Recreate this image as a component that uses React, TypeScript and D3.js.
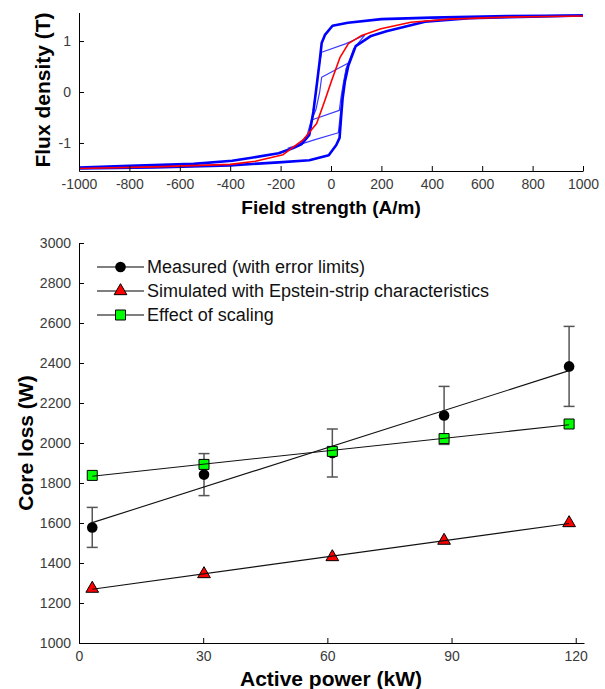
import * as d3 from "d3";
import { useEffect, useRef } from "react";

const width = 605;
const height = 689;

// hysteresis loops, [field strength A/m, flux density T]
const majorDescending: [number, number][] = [
  [1000, 1.5], [700, 1.49], [400, 1.46], [200, 1.43], [67, 1.36], [6, 1.3],
  [-24, 1.12], [-37, 0.96], [-45, 0.6], [-55, 0.2], [-70, -0.39], [-86, -0.84],
  [-116, -1.02], [-150, -1.1], [-208, -1.2], [-315, -1.29], [-392, -1.35],
  [-545, -1.41], [-800, -1.45], [-1000, -1.48],
];
const majorAscending: [number, number][] = [
  [-1000, -1.5], [-700, -1.48], [-400, -1.44], [-208, -1.38], [-86, -1.34],
  [-9, -1.24], [21, -1.04], [34, -0.9], [40, -0.5], [46, -0.13], [55, 0.2],
  [69, 0.52], [98, 0.9], [159, 1.1], [220, 1.19], [373, 1.38], [550, 1.45],
  [800, 1.48], [1000, 1.5],
];
const minorLoopA: [number, number][] = [
  [135, 1.12], [60, 0.95], [-37, 0.78], [-48, 0.5], [-60, 0.0], [-75, -0.5],
  [-95, -0.85], [-130, -1.05], [-170, -1.1], [-60, -0.93], [29, -0.8],
  [36, -0.5], [45, 0.0], [60, 0.45], [90, 0.85], [135, 1.12],
];
const minorLoopB: [number, number][] = [
  [69, 0.57], [-37, 0.29], [-45, 0.0], [-60, -0.35], [-77, -0.55],
  [33, -0.36], [40, -0.1], [50, 0.2], [60, 0.45], [69, 0.57],
];
const anhysteretic: [number, number][] = [
  [-1000, -1.5], [-700, -1.47], [-400, -1.42], [-300, -1.36], [-190, -1.23],
  [-111, -0.94], [-57, -0.62], [-24, -0.16], [3, 0.23], [36, 0.68], [69, 0.95],
  [122, 1.11], [198, 1.24], [317, 1.37], [472, 1.43], [700, 1.47], [1000, 1.49],
];
const fieldTicks = [-1000, -800, -600, -400, -200, 0, 200, 400, 600, 800, 1000];
const fluxTicks = [-1, 0, 1];

// core loss vs active power
const powerKW = [3.2, 30.2, 61.2, 88.2, 118.4];
const measuredLoss = [1578, 1842, 1950, 2138, 2383];
const measuredError = [100, 105, 120, 145, 200];
const simulatedLoss = [1272, 1345, 1430, 1512, 1600];
const scalingLoss = [1838, 1893, 1958, 2022, 2095];
const powerTicks = [0, 30, 60, 90, 120];
const lossTicks = [1000, 1200, 1400, 1600, 1800, 2000, 2200, 2400, 2600, 2800, 3000];
const legendLabels = [
  "Measured (with error limits)",
  "Simulated with Epstein-strip characteristics",
  "Effect of scaling",
];

const font = "'Liberation Sans', Arial, sans-serif";

function fitLine(xs: number[], ys: number[]): [number, number][] {
  const mx = d3.mean(xs) as number;
  const my = d3.mean(ys) as number;
  const slope =
    d3.sum(xs.map((x, i) => (x - mx) * (ys[i] - my))) /
    d3.sum(xs.map((x) => (x - mx) ** 2));
  const x0 = xs[0];
  const x1 = xs[xs.length - 1];
  return [
    [x0, my + slope * (x0 - mx)],
    [x1, my + slope * (x1 - mx)],
  ];
}

function styleAxis(g: any) {
  g.select(".domain").attr("stroke", "#000").attr("stroke-width", 1);
  g.selectAll(".tick line").attr("stroke", "#000");
  g.selectAll(".tick text")
    .attr("fill", "#3a3a3a")
    .style("font-family", font)
    .style("font-size", "14px");
}

function drawMarker(g: any, kind: string, x: number, y: number) {
  if (kind === "circle") {
    g.append("circle").attr("cx", x).attr("cy", y).attr("r", 5.3).attr("fill", "#000");
  } else if (kind === "triangle") {
    g.append("path")
      .attr("d", d3.symbol(d3.symbolTriangle, 70)())
      .attr("transform", `translate(${x},${y})`)
      .attr("fill", "#ff0000")
      .attr("stroke", "#000")
      .attr("stroke-width", 1);
  } else {
    g.append("path")
      .attr("d", d3.symbol(d3.symbolSquare, 100)())
      .attr("transform", `translate(${x},${y})`)
      .attr("fill", "#00ff00")
      .attr("stroke", "#000")
      .attr("stroke-width", 1);
  }
}

function axisTitle(svg: any, x: number, y: number, size: number, label: string, rotate = false) {
  svg
    .append("text")
    .attr("transform", `translate(${x}, ${y})${rotate ? " rotate(-90)" : ""}`)
    .attr("text-anchor", "middle")
    .attr("dominant-baseline", "central")
    .style("font-family", font)
    .style("font-size", `${size}px`)
    .style("font-weight", "700")
    .text(label);
}

function drawChart(svgEl: SVGSVGElement) {
  const svg = d3.select(svgEl);
  svg.selectAll("*").remove();
  const plain = (d: any) => String(d);

  // ---- top: hysteresis ----
  const hx = d3.scaleLinear().domain([-1000, 1000]).range([79, 583]);
  const hy = d3.scaleLinear().domain([-1.55, 1.56]).range([171, 12.5]);

  const loopLine = d3
    .line<[number, number]>()
    .x((d) => hx(d[0]))
    .y((d) => hy(d[1]));

  const loops = svg.append("g").attr("fill", "none").attr("stroke-linejoin", "round");
  [minorLoopA, minorLoopB].forEach((loop) => {
    loops.append("path").attr("d", loopLine(loop)).attr("stroke", "#3a3aff").attr("stroke-width", 1.2);
  });
  [majorDescending, majorAscending].forEach((branch) => {
    loops.append("path").attr("d", loopLine(branch)).attr("stroke", "#0000ff").attr("stroke-width", 2.6);
  });
  loops.append("path").attr("d", loopLine(anhysteretic)).attr("stroke", "#ff0000").attr("stroke-width", 1.6);

  svg
    .append("g")
    .attr("transform", "translate(0,171)")
    .call(d3.axisBottom(hx).tickValues(fieldTicks).tickFormat(plain).tickSizeInner(-5).tickSizeOuter(0).tickPadding(8))
    .call(styleAxis);
  svg
    .append("g")
    .attr("transform", "translate(79,0)")
    .call(d3.axisLeft(hy).tickValues(fluxTicks).tickFormat(plain).tickSizeInner(-5).tickSizeOuter(0).tickPadding(8))
    .call(styleAxis);

  axisTitle(svg, 331, 207, 19, "Field strength (A/m)");
  axisTitle(svg, 42, 90, 21, "Flux density (T)", true);

  // ---- bottom: core loss ----
  const px = d3.scaleLinear().domain([0, 122]).range([79, 584]);
  const py = d3.scaleLinear().domain([1000, 3000]).range([643, 243]);

  svg
    .append("g")
    .attr("transform", "translate(0,643)")
    .call(d3.axisBottom(px).tickValues(powerTicks).tickFormat(plain).tickSizeInner(-5).tickSizeOuter(0).tickPadding(8))
    .call(styleAxis);
  svg
    .append("g")
    .attr("transform", "translate(79,0)")
    .call(d3.axisLeft(py).tickValues(lossTicks).tickFormat(plain).tickSizeInner(-5).tickSizeOuter(0).tickPadding(8))
    .call(styleAxis);

  const series = [
    { values: measuredLoss, kind: "circle" },
    { values: simulatedLoss, kind: "triangle" },
    { values: scalingLoss, kind: "square" },
  ];

  const plot = svg.append("g");
  const fit = d3
    .line<[number, number]>()
    .x((d) => px(d[0]))
    .y((d) => py(d[1]));

  // error bars
  const errors = plot.append("g").attr("stroke", "#555").attr("stroke-width", 1.5);
  powerKW.forEach((p, i) => {
    const x = px(p);
    const top = py(measuredLoss[i] + measuredError[i]);
    const bottom = py(measuredLoss[i] - measuredError[i]);
    errors.append("line").attr("x1", x).attr("x2", x).attr("y1", top).attr("y2", bottom);
    errors.append("line").attr("x1", x - 5.5).attr("x2", x + 5.5).attr("y1", top).attr("y2", top);
    errors.append("line").attr("x1", x - 5.5).attr("x2", x + 5.5).attr("y1", bottom).attr("y2", bottom);
  });

  series.forEach((s) => {
    powerKW.forEach((p, i) => drawMarker(plot, s.kind, px(p), py(s.values[i])));
  });
  series.forEach((s) => {
    plot
      .append("path")
      .attr("d", fit(fitLine(powerKW, s.values)))
      .attr("fill", "none")
      .attr("stroke", "#111")
      .attr("stroke-width", 1.1);
  });

  // legend
  const legend = svg.append("g");
  legendLabels.forEach((label, i) => {
    const y = 267 + i * 24;
    legend
      .append("line")
      .attr("x1", 97)
      .attr("x2", 144)
      .attr("y1", y)
      .attr("y2", y)
      .attr("stroke", "#000")
      .attr("stroke-width", 1.1);
    drawMarker(legend, series[i].kind, 120.5, y);
    legend
      .append("text")
      .attr("x", 147)
      .attr("y", y)
      .attr("dominant-baseline", "central")
      .attr("fill", "#111")
      .style("font-family", font)
      .style("font-size", "18px")
      .text(label);
  });

  axisTitle(svg, 331, 678, 21, "Active power (kW)");
  axisTitle(svg, 25, py(2000), 21, "Core loss (W)", true);
}

export default function App() {
  const svgRef = useRef<SVGSVGElement>(null);

  useEffect(() => {
    if (svgRef.current) drawChart(svgRef.current);
  }, []);

  return (
    <svg
      ref={svgRef}
      width={width}
      height={height}
      viewBox={`0 0 ${width} ${height}`}
      style={{ position: "absolute", left: 0, top: 0, background: "#fff" }}
    />
  );
}
